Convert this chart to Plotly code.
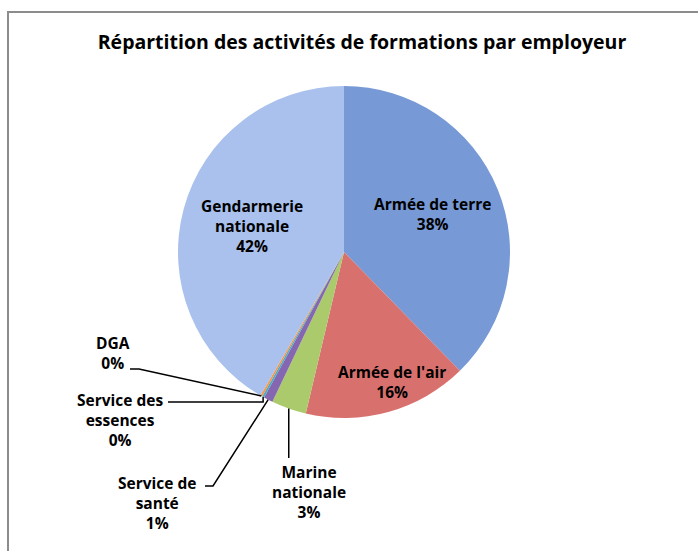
import math
import plotly.graph_objects as go

# ---- data ----
categories = ["Armée de terre", "Armée de l'air", "Marine nationale", "Service de santé",
              "Service des essences", "DGA", "Gendarmerie nationale"]
display_labels = ["Armée de terre", "Armée de l'air", "Marine<br>nationale", "Service de<br>santé",
                  "Service des<br>essences", "DGA", "Gendarmerie<br>nationale"]
values = [37.7, 16.0, 3.4, 0.9, 0.2, 0.2, 41.6]
colors = ["#7799D6", "#D8716E", "#AACA6C", "#8566B0", "#4BACC6", "#F79646", "#A9C1EC"]

W, H = 698, 551
CX, CY, R = 344, 252, 166  # pie centre / radius in pixels


def px(x):
    return x / W


def py(y):
    return 1 - y / H


fig = go.Figure(go.Pie(
    labels=categories, values=values, sort=False, direction="clockwise", rotation=0,
    marker=dict(colors=colors, line=dict(width=0)),
    textinfo="none", hoverinfo="label+percent", showlegend=False,
    domain=dict(x=[px(CX - R), px(CX + R)], y=[py(CY + R), py(CY - R)]),
))

total = sum(values)
pct = [f"{round(v / total * 100):.0f}%" for v in values]

FONT = dict(family="Open Sans", size=15.5, color="#000000", weight="bold")

# label positions (pixel centres)
label_pos = {
    0: (432, 214),
    1: (392, 382),
    2: (309, 492),
    3: (157, 503),
    4: (120, 420),
    5: (113, 353),
    6: (252, 226),
}
annotations = []
for i, (x, y) in label_pos.items():
    annotations.append(dict(
        x=px(x), y=py(y), xref="paper", yref="paper", xanchor="center", yanchor="middle",
        text=f"{display_labels[i]}<br>{pct[i]}", showarrow=False, font=FONT, align="center",
    ))

# rim point of each slice (mid angle), computed from data
cum = 0
rim = []
for v in values:
    mid = (cum + v / 2) / total * 2 * math.pi
    rim.append((CX + R * math.sin(mid), CY - R * math.cos(mid)))
    cum += v

line_style = dict(color="#000000", width=1.5)
shapes = [
    # chart frame
    dict(type="rect", xref="paper", yref="paper", x0=px(8), x1=1.2, y0=-0.2, y1=py(12),
         line=dict(color="#8C8C8C", width=2), fillcolor="rgba(0,0,0,0)", layer="below"),
    # DGA
    dict(type="path", xref="paper", yref="paper",
         path=f"M {px(130)} {py(369)} L {px(139)} {py(369)} L {px(rim[5][0])} {py(rim[5][1])}",
         line=line_style),
    # Service des essences
    dict(type="path", xref="paper", yref="paper",
         path=f"M {px(168)} {py(402)} L {px(rim[4][0])} {py(402)} L {px(rim[4][0])} {py(rim[4][1])}",
         line=line_style),
    # Service de santé
    dict(type="path", xref="paper", yref="paper",
         path=f"M {px(205)} {py(486)} L {px(213)} {py(486)} L {px(rim[3][0])} {py(rim[3][1])}",
         line=line_style),
    # Marine nationale
    dict(type="path", xref="paper", yref="paper",
         path=f"M {px(rim[2][0])} {py(rim[2][1])} L {px(rim[2][0])} {py(458)}",
         line=line_style),
]

fig.update_layout(
    width=W, height=H,
    margin=dict(l=0, r=0, t=0, b=0),
    paper_bgcolor="white", plot_bgcolor="white",
    title=dict(text="Répartition des activités de formations par employeur",
               x=px(362), xanchor="center", y=py(42), yanchor="middle",
               font=dict(family="Open Sans", size=19.5, color="#000000", weight="bold")),
    annotations=annotations, shapes=shapes,
)

fig.write_html("out.html", config={"displayModeBar": False},
               post_script="document.body.style.margin='0';document.body.style.overflow='hidden';")
